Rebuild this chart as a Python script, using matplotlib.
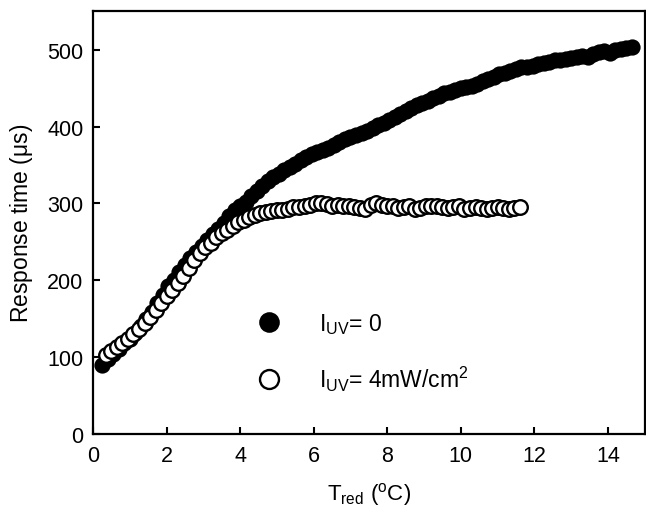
import matplotlib
matplotlib.use('Agg')
import matplotlib.pyplot as plt

plt.rcParams['font.family'] = ['Liberation Sans', 'DejaVu Sans']
plt.rcParams['mathtext.fontset'] = 'custom'
plt.rcParams['mathtext.rm'] = 'Liberation Sans'
plt.rcParams['mathtext.it'] = 'Liberation Sans'

# I_UV = 0 (filled circles)
t_dark = [0.25, 0.40, 0.55, 0.70, 0.85, 1.00, 1.15, 1.30, 1.45, 1.60, 1.75, 1.90,
          2.05, 2.20, 2.35, 2.50, 2.65, 2.80, 2.95, 3.10, 3.25, 3.40, 3.55, 3.70,
          3.85, 4.00, 4.15, 4.30, 4.45, 4.60, 4.75, 4.90, 5.05, 5.20, 5.35, 5.50,
          5.65, 5.80, 5.95, 6.10, 6.25, 6.40, 6.55, 6.70, 6.85, 7.00, 7.15, 7.30,
          7.45, 7.60, 7.75, 7.90, 8.05, 8.20, 8.35, 8.50, 8.65, 8.80, 8.95, 9.10,
          9.25, 9.40, 9.55, 9.70, 9.85, 10.00, 10.15, 10.30, 10.45, 10.60, 10.75,
          10.90, 11.05, 11.20, 11.35, 11.50, 11.65, 11.80, 11.95, 12.10, 12.25,
          12.40, 12.55, 12.70, 12.85, 13.00, 13.15, 13.30, 13.45, 13.60, 13.75,
          13.90, 14.05, 14.20, 14.35, 14.50, 14.65]
resp_dark = [90, 97, 104, 111, 118, 124, 132, 140, 149, 159, 170, 181,
             192, 201, 211, 220, 229, 237, 245, 252, 260, 267, 275, 283,
             291, 296, 302, 309, 316, 323, 329, 334, 338, 343, 347, 351,
             356, 361, 364, 367, 369, 372, 376, 380, 384, 387, 389, 392,
             394, 398, 402, 405, 408, 412, 416, 420, 424, 428, 430, 433,
             437, 440, 443, 445, 447, 450, 451, 453, 455, 459, 462,
             465, 468, 470, 472, 475, 477, 478, 479, 481, 483,
             484, 486, 487, 488, 489, 491, 492, 491, 494, 497,
             498, 496, 499, 501, 502, 503]

# I_UV = 4 mW/cm2 (open circles)
t_uv = [0.35, 0.50, 0.65, 0.80, 0.95, 1.10, 1.25, 1.40, 1.55, 1.70, 1.85, 2.00,
        2.15, 2.30, 2.45, 2.60, 2.75, 2.90, 3.05, 3.20, 3.35, 3.50, 3.65, 3.80,
        3.95, 4.10, 4.25, 4.40, 4.55, 4.70, 4.85, 5.00, 5.15, 5.30, 5.45, 5.60,
        5.75, 5.90, 6.05, 6.20, 6.35, 6.50, 6.65, 6.80, 6.95, 7.10, 7.25, 7.40,
        7.55, 7.70, 7.85, 8.00, 8.15, 8.30, 8.45, 8.60, 8.75, 8.90, 9.05, 9.20,
        9.35, 9.50, 9.65, 9.80, 9.95, 10.10, 10.25, 10.40, 10.55, 10.70, 10.85,
        11.00, 11.15, 11.30, 11.45, 11.60]
resp_uv = [103, 108, 113, 119, 124, 130, 137, 144, 152, 161, 170, 179,
           188, 197, 206, 216, 226, 235, 243, 249, 256, 261, 266, 271,
           276, 279, 282, 285, 287, 289, 290, 291, 292, 293, 295, 295,
           296, 298, 300, 301, 299, 297, 298, 297, 296, 295, 294, 293,
           298, 300, 298, 297, 296, 294, 295, 296, 293, 294, 296, 297,
           296, 295, 294, 295, 296, 293, 294, 295, 294, 293, 294,
           295, 294, 293, 294, 295]

x_ticks = [0, 2, 4, 6, 8, 10, 12, 14]
y_ticks = [0, 100, 200, 300, 400, 500]

fig = plt.figure(figsize=(6.46, 5.10), dpi=100)
ax = fig.add_axes([0.144, 0.147, 0.854, 0.829])

ax.plot(t_dark, resp_dark, 'o', color='black', markersize=10.5,
        markeredgewidth=1.2, label=r'$\mathregular{I_{UV}}$= 0')
ax.plot(t_uv, resp_uv, 'o', markerfacecolor='white', markeredgecolor='black',
        markersize=10.5, markeredgewidth=1.7,
        label=r'$\mathregular{I_{UV}}$= 4mW/cm$\mathregular{^2}$')

ax.set_xlim(0, 15)
ax.set_ylim(0, 550)
ax.set_xticks(x_ticks)
ax.set_yticks(y_ticks)
ax.tick_params(direction='in', length=5, width=1.5, labelsize=15.5)
ax.tick_params(axis='x', pad=8)
ax.tick_params(axis='y', pad=7)
for s in ax.spines.values():
    s.set_linewidth(1.6)

ax.set_xlabel(r'$\mathregular{T_{red}}$ ($\mathregular{^o}$C)', fontsize=16, labelpad=10)
ax.set_ylabel(r'Response time ($\mathregular{\mu}$s)', fontsize=16.5, labelpad=9)

ax.legend(loc='upper left', bbox_to_anchor=(0.278, 0.319), frameon=False,
          fontsize=16.5, handlelength=1, handletextpad=1.68, labelspacing=1.25,
          borderpad=0, markerscale=1.3)

fig.savefig('out.png', dpi=100)
